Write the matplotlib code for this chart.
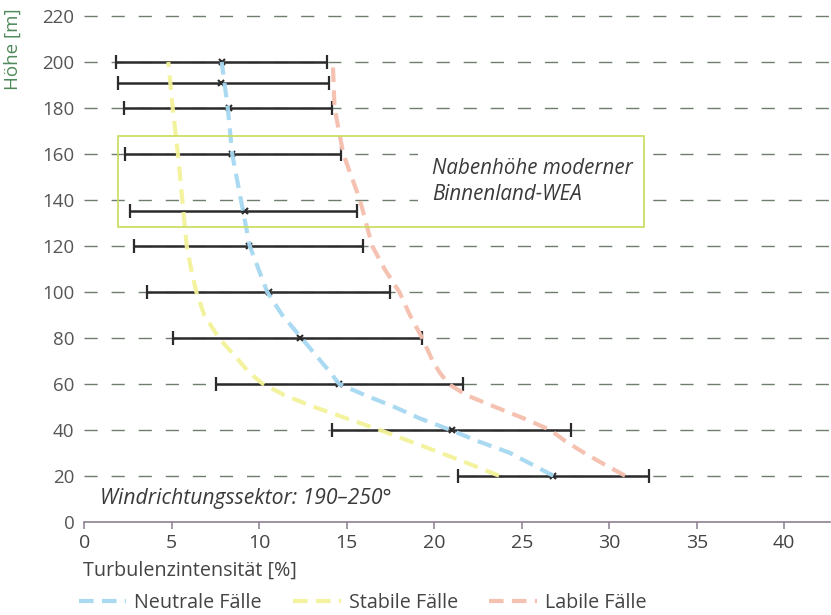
import matplotlib
matplotlib.use("Agg")
import matplotlib.pyplot as plt
from matplotlib.patches import Rectangle
import numpy as np

plt.rcParams['font.family'] = ['Open Sans', 'DejaVu Sans']

# ---- data ----
bar_heights = [20, 40, 60, 80, 100, 120, 135, 160, 180, 191, 200]
bar_mean = [26.77, 21.0, 14.54, 12.33, 10.54, 9.43, 9.2, 8.46, 8.29, 7.8, 7.85]
bar_low = [21.35, 14.17, 7.53, 5.09, 3.58, 2.84, 2.61, 2.34, 2.25, 1.91, 1.79]
bar_high = [32.29, 27.81, 21.62, 19.31, 17.45, 15.94, 15.6, 14.67, 14.15, 14.0, 13.85]

curve_heights = [20, 25, 30, 35, 40, 45, 50, 55, 60, 65, 70, 80, 90, 100, 110, 120, 140, 160, 180, 200]
neutral = [26.8, 25.55, 24.3, 22.5, 20.9, 19.15, 17.7, 16.05, 14.55, 14.05, 13.5, 12.4, 11.3, 10.45, 9.95, 9.45, 8.95, 8.45, 8.2, 7.85]
stable = [23.7, 22.05, 20.35, 18.6, 16.85, 14.97, 13.1, 11.45, 10.2, 9.4, 8.85, 7.68, 6.85, 6.4, 6.1, 5.85, 5.6, 5.35, 5.05, 4.8]
labile = [30.9, 29.7, 28.55, 27.5, 26.6, 25.1, 23.45, 21.85, 20.8, 20.3, 19.9, 19.3, 18.6, 18.0, 17.15, 16.45, 15.75, 14.8, 14.3, 14.2]

series_labels = ["Neutrale Fälle", "Stabile Fälle", "Labile Fälle"]
series_colors = ["#a6d8f2", "#f3f39a", "#f5bfae"]

x_ticks = [0, 5, 10, 15, 20, 25, 30, 35, 40]
y_ticks = list(range(0, 221, 20))

hub_box = (1.9, 128.3, 32.0, 167.7)  # x0, y0, x1, y1
hub_text = ["Nabenhöhe moderner", "Binnenland-WEA"]
sector_text = "Windrichtungssektor: 190–250°"

# ---- figure ----
W, H = 831, 615
fig = plt.figure(figsize=(W / 100, H / 100), dpi=100)
ax = fig.add_axes([84.3 / W, (H - 521.7) / H, (829.8 - 84.3) / W, (521.7 - 6.8) / H])
ax.set_xlim(0, 42.6)
ax.set_ylim(0, 224)

for s in ['left', 'top', 'right']:
    ax.spines[s].set_visible(False)
ax.spines['bottom'].set_color('#8c7f8f')
ax.spines['bottom'].set_linewidth(1.2)

ax.set_xticks(x_ticks)
ax.set_yticks(y_ticks)
ax.tick_params(axis='x', direction='out', length=5, width=1.1, color='#8c7f8f',
               labelsize=14, labelcolor='#444444', pad=4)
ax.tick_params(axis='y', length=0, labelsize=13.5, labelcolor='#555555', pad=7)

# dashed horizontal grid
for yv in y_ticks[1:]:
    ax.axhline(yv, color='#6f7d6f', lw=1.0, linestyle=(0, (9.5, 10)), zorder=1)

# hub-height box
x0, y0, x1, y1 = hub_box
ax.add_patch(Rectangle((19.07, y0 + 1.5), x1 - 19.07, (y1 - y0) - 3, facecolor='white',
                       edgecolor='none', zorder=2))
ax.add_patch(Rectangle((x0, y0), x1 - x0, y1 - y0, fill=False, edgecolor='#c8dc5a',
                       lw=1.2, zorder=6))
ax.text(19.85, 153.7, hub_text[0], fontsize=14.8, style='italic', color='#3a3a3a',
        va='center', ha='left', zorder=7)
ax.text(19.85, 142.4, hub_text[1], fontsize=14.8, style='italic', color='#3a3a3a',
        va='center', ha='left', zorder=7)

# error bars
mean = np.array(bar_mean)
xerr = [mean - np.array(bar_low), np.array(bar_high) - mean]
ax.errorbar(bar_mean, bar_heights, xerr=xerr, fmt='none', ecolor='#2b2b2b',
            elinewidth=1.8, capsize=5, capthick=1.6, zorder=3)
ax.plot(bar_mean, bar_heights, linestyle='none', marker='x', markersize=5,
        mew=1.5, color='#2b2b2b', zorder=3)

# curves
handles = []
for vals, lab, col in zip([neutral, stable, labile], series_labels, series_colors):
    ln, = ax.plot(vals, curve_heights, color=col, lw=3, dashes=(3.5, 2.0),
                  dash_capstyle='butt', zorder=4, alpha=0.95, label=lab)
    handles.append(ln)

ax.text(0.9, 10.3, sector_text, fontsize=15.2, style='italic', color='#3a3a3a',
        va='center', ha='left', zorder=7)

# axis labels
fig.text(12.5 / W, 1 - 49 / H, "Höhe [m]", rotation=90, color='#4f8a5a', fontsize=13.5,
         ha='center', va='center')
fig.text(83.0 / W, 1 - 571 / H, "Turbulenzintensität [%]", color='#444444', fontsize=14.2,
         ha='left', va='center')

leg = fig.legend(handles, series_labels, loc='center left',
                 bbox_to_anchor=(79 / W, 1 - 603 / H), ncol=3, frameon=False,
                 fontsize=14.2, handlelength=2.4, handletextpad=0.4, columnspacing=1.6,
                 borderaxespad=0, borderpad=0)
for t in leg.get_texts():
    t.set_color('#444444')

fig.savefig("out.png", dpi=100)
